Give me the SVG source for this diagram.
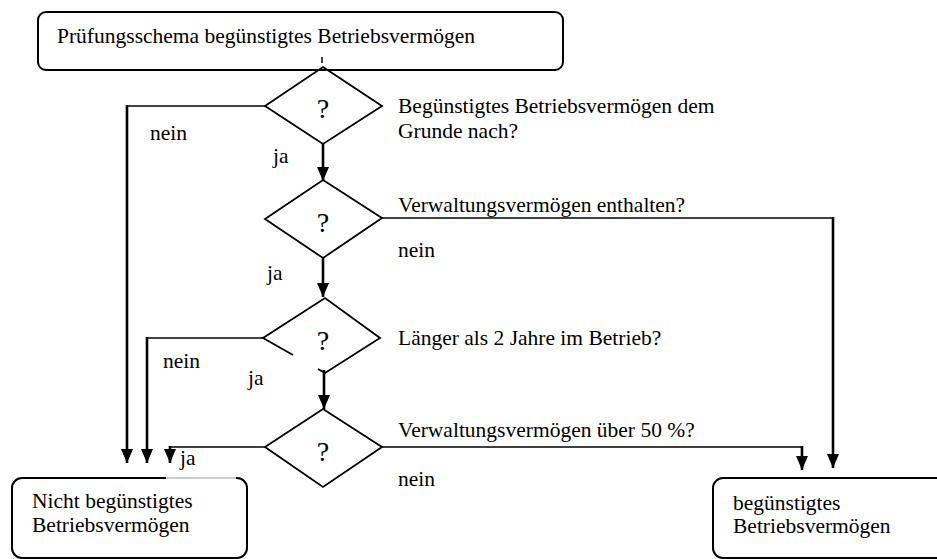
<svg xmlns="http://www.w3.org/2000/svg" width="937" height="559" viewBox="0 0 937 559">
<style>
text{font-family:"Liberation Serif","Times New Roman",serif;font-size:21.5px;fill:#000}
.q{font-size:28px;text-anchor:middle}
.box{fill:#fff;stroke:#000;stroke-width:2}
.dia{fill:none;stroke:#000;stroke-width:1.8}
.h{stroke:#000;stroke-width:1.7;fill:none}
.v{stroke:#000;stroke-width:2.6;fill:none;marker-end:url(#arr)}
</style>
<defs>
<marker id="arr" viewBox="0 0 14 12" refX="14" refY="6" markerWidth="14" markerHeight="12" markerUnits="userSpaceOnUse" orient="auto">
<path d="M0,0 L14,6 L0,12 z" fill="#000"/>
</marker>
</defs>
<rect width="937" height="559" fill="#fff"/>

<g id="start">
<rect class="box" x="38" y="12" width="525" height="58" rx="8"/>
<line x1="322" y1="57" x2="322" y2="63" stroke="#000" stroke-width="1.5"/>
<text x="57" y="43">Prüfungsschema begünstigtes Betriebsvermögen</text>
</g>

<g id="d1">
<polygon class="dia" points="323,67 382,106 323,144 265,106"/>
<text class="q" x="323" y="118">?</text>
<text x="398" y="113">Begünstigtes Betriebsvermögen dem</text>
<text x="398" y="138">Grunde nach?</text>
</g>

<g id="d2">
<polygon class="dia" points="323,180 382,218 323,258 265,219"/>
<text class="q" x="323" y="232">?</text>
<text x="398" y="212">Verwaltungsvermögen enthalten?</text>
</g>

<g id="d3">
<path class="dia" d="M293,355 L263,338 L325,298 L380,338 L325,373 L318,369"/>
<text class="q" x="323" y="350">?</text>
<text x="398" y="345">Länger als 2 Jahre im Betrieb?</text>
</g>

<g id="d4">
<polygon class="dia" points="323,409 382,447 323,487 265,447"/>
<text class="q" x="323" y="461">?</text>
<text x="398" y="437">Verwaltungsvermögen über 50 %?</text>
</g>

<g id="connectors">
<line class="h" x1="265" y1="106" x2="126" y2="106"/>
<line class="v" x1="127" y1="105" x2="127" y2="463"/>
<line class="h" x1="263" y1="338" x2="146" y2="338"/>
<line class="v" x1="147" y1="337" x2="147" y2="463"/>
<line class="h" x1="265" y1="447" x2="169" y2="447"/>
<line class="v" x1="170" y1="446" x2="170" y2="463"/>
<line class="h" x1="382" y1="218" x2="834" y2="218"/>
<line class="v" x1="833" y1="217" x2="833" y2="468"/>
<line class="h" x1="382" y1="447" x2="803" y2="447"/>
<line class="v" x1="802" y1="446" x2="802" y2="470"/>
<line class="v" x1="323" y1="144" x2="323" y2="181"/>
<line class="v" x1="323" y1="258" x2="323" y2="297"/>
<line class="v" x1="324" y1="370" x2="324" y2="409"/>
<text x="150" y="140">nein</text>
<text x="273" y="163">ja</text>
<text x="398" y="257">nein</text>
<text x="267" y="280">ja</text>
<text x="163" y="368">nein</text>
<text x="248" y="385">ja</text>
<text x="180" y="465">ja</text>
<text x="398" y="486">nein</text>
</g>

<g id="end_no">
<rect class="box" x="12" y="478" width="235" height="80" rx="10"/>
<line x1="166" y1="478" x2="236" y2="478" stroke="#fff" stroke-width="2.2"/>
<line x1="166" y1="478" x2="236" y2="478" stroke="#999" stroke-width="1"/>
<text x="32" y="508">Nicht begünstigtes</text>
<text x="32" y="532">Betriebsvermögen</text>
</g>

<g id="end_yes">
<rect class="box" x="713" y="478" width="240" height="80" rx="10"/>
<text x="733" y="510">begünstigtes</text>
<text x="733" y="533">Betriebsvermögen</text>
</g>
</svg>
